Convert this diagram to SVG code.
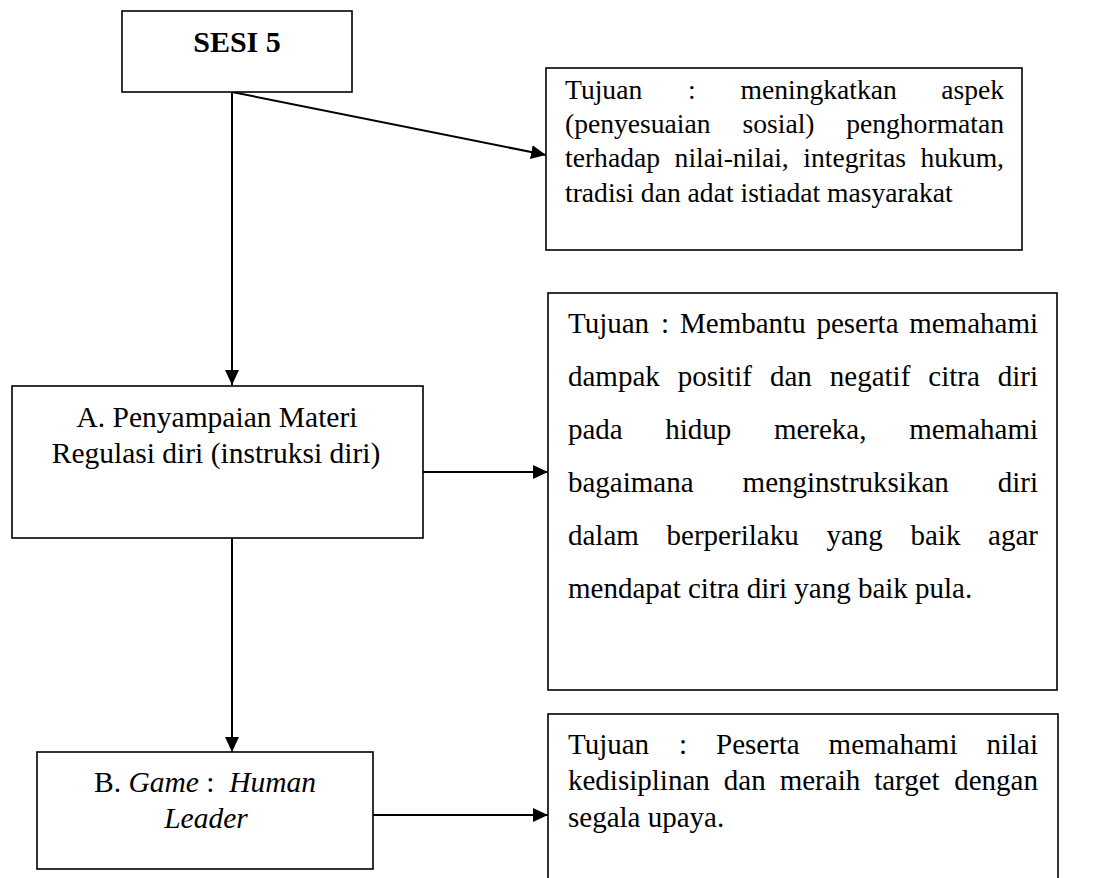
<svg xmlns="http://www.w3.org/2000/svg" width="1105" height="878" viewBox="0 0 1105 878">
<style>
.box{fill:#fff;stroke:#000;stroke-width:1.6}
.t{font-family:"Liberation Serif","Times New Roman",serif;font-size:29px;fill:#000}
.s{font-size:27.6px}
.m{font-size:29.5px}
.c{text-anchor:middle}
.e{text-anchor:end}
.b{font-weight:bold;font-size:30px}
.i{font-style:italic}
.ln{stroke:#000;stroke-width:2;fill:none}
</style>
<defs>
<marker id="ah" markerUnits="userSpaceOnUse" markerWidth="16" markerHeight="14" refX="15" refY="7" orient="auto">
<path d="M0,0 L15,7 L0,14 Z" fill="#000"/>
</marker>
</defs>
<g id="connectors">
<line class="ln" x1="232" y1="92" x2="232" y2="385" marker-end="url(#ah)"/>
<line class="ln" x1="232" y1="92" x2="546" y2="155" marker-end="url(#ah)"/>
<line class="ln" x1="423" y1="472" x2="548" y2="472" marker-end="url(#ah)"/>
<line class="ln" x1="232" y1="538" x2="232" y2="752" marker-end="url(#ah)"/>
<line class="ln" x1="373" y1="815" x2="548" y2="815" marker-end="url(#ah)"/>
</g>
<g id="sesi5">
<rect class="box" x="122" y="11" width="230" height="81"/>
<text class="t b c" x="237" y="52">SESI 5</text>
</g>
<g id="tujuan1">
<rect class="box" x="546" y="68" width="476" height="182"/>
<text class="t s" x="565" y="99">Tujuan</text>
<text class="t s" x="688" y="99">:</text>
<text class="t s" x="740.5" y="99">meningkatkan</text>
<text class="t s e" x="1004" y="99">aspek</text>
<text class="t s" x="565" y="133">(penyesuaian</text>
<text class="t s" x="742.5" y="133">sosial)</text>
<text class="t s e" x="1004" y="133">penghormatan</text>
<text class="t s" x="565" y="167">terhadap</text>
<text class="t s" x="674.6" y="167">nilai-nilai,</text>
<text class="t s" x="803.3" y="167">integritas</text>
<text class="t s e" x="1004" y="167">hukum,</text>
<text class="t s" x="565" y="202">tradisi dan adat istiadat masyarakat</text>
</g>
<g id="materiA">
<rect class="box" x="12" y="386" width="411" height="152"/>
<text class="t m c" x="217" y="427">A. Penyampaian Materi</text>
<text class="t m c" x="216" y="463">Regulasi diri (instruksi diri)</text>
</g>
<g id="tujuan2">
<rect class="box" x="548" y="293" width="509" height="397"/>
<text class="t" x="568" y="333">Tujuan</text>
<text class="t" x="661" y="333">:</text>
<text class="t" x="680" y="333">Membantu</text>
<text class="t" x="816.4" y="333">peserta</text>
<text class="t e" x="1038" y="333">memahami</text>
<text class="t" x="568" y="386">dampak</text>
<text class="t" x="677.8" y="386">positif</text>
<text class="t" x="769.9" y="386">dan</text>
<text class="t" x="829.8" y="386">negatif</text>
<text class="t" x="928.3" y="386">citra</text>
<text class="t e" x="1038" y="386">diri</text>
<text class="t" x="568" y="439">pada</text>
<text class="t" x="665.3" y="439">hidup</text>
<text class="t" x="773.9" y="439">mereka,</text>
<text class="t e" x="1038" y="439">memahami</text>
<text class="t" x="568" y="492">bagaimana</text>
<text class="t" x="742.6" y="492">menginstruksikan</text>
<text class="t e" x="1038" y="492">diri</text>
<text class="t" x="568" y="545">dalam</text>
<text class="t" x="666.6" y="545">berperilaku</text>
<text class="t" x="826.4" y="545">yang</text>
<text class="t" x="910.5" y="545">baik</text>
<text class="t e" x="1038" y="545">agar</text>
<text class="t" x="568" y="598">mendapat citra diri yang baik pula.</text>
</g>
<g id="gameB">
<rect class="box" x="37" y="752" width="336" height="117"/>
<text class="t m c" x="205" y="792" xml:space="preserve">B. <tspan class="i">Game</tspan> :  <tspan class="i">Human</tspan></text>
<text class="t m c i" x="206" y="828">Leader</text>
</g>
<g id="tujuan3">
<rect class="box" x="548" y="714" width="510" height="180"/>
<text class="t" x="568" y="754">Tujuan</text>
<text class="t" x="679" y="754">:</text>
<text class="t" x="716" y="754">Peserta</text>
<text class="t" x="828.6" y="754">memahami</text>
<text class="t e" x="1038" y="754">nilai</text>
<text class="t" x="568" y="790">kedisiplinan</text>
<text class="t" x="723.8" y="790">dan</text>
<text class="t" x="779.7" y="790">meraih</text>
<text class="t" x="874.2" y="790">target</text>
<text class="t e" x="1038" y="790">dengan</text>
<text class="t" x="568" y="827">segala upaya.</text>
</g>
</svg>
